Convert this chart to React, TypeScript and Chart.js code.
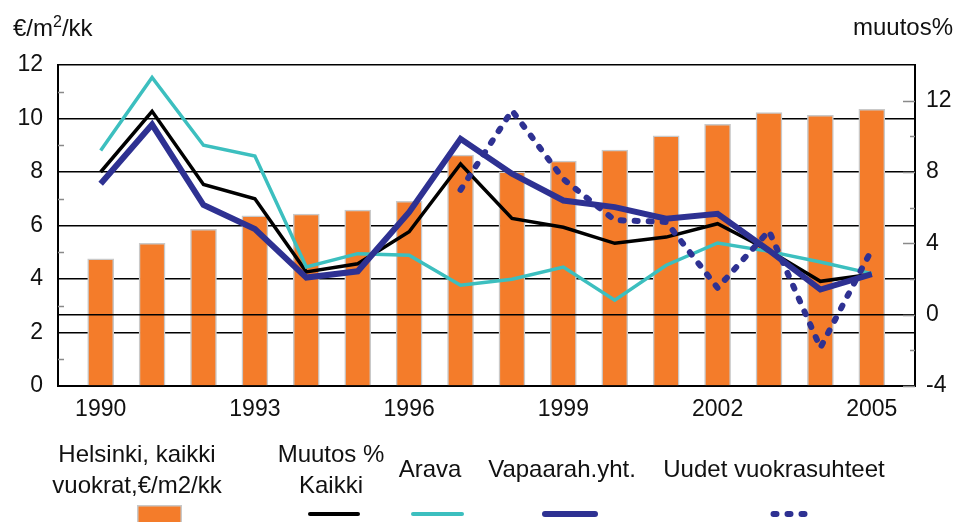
import React, { useEffect, useRef } from 'react';
import { Chart, registerables } from 'chart.js';

Chart.register(...registerables);

// ---------- data ----------
const years = [1990, 1991, 1992, 1993, 1994, 1995, 1996, 1997, 1998, 1999, 2000, 2001, 2002, 2003, 2004, 2005];
const xTickYears = [1990, 1993, 1996, 1999, 2002, 2005];
const leftTicks = [0, 2, 4, 6, 8, 10, 12];
const leftMinorTicks = [1, 3, 5, 7, 9, 11];
const rightTicks = [-4, 0, 4, 8, 12];
const rightMinorTicks = [-2, 2, 6, 10];

// Helsinki, all rents €/m2/month (left axis)
const rentLevel = [4.75, 5.33, 5.86, 6.36, 6.43, 6.58, 6.9, 8.63, 8.01, 8.41, 8.82, 9.35, 9.78, 10.22, 10.12, 10.34];
// change % (right axis)
const changeAll = [8.0, 11.4, 7.3, 6.5, 2.4, 2.85, 4.65, 8.45, 5.4, 4.9, 4.0, 4.35, 5.1, 3.6, 1.87, 2.27];
const changeArava = [9.2, 13.3, 9.5, 8.9, 2.67, 3.42, 3.33, 1.65, 1.99, 2.67, 0.81, 2.77, 4.02, 3.55, 2.95, 2.3];
const changeFree = [7.34, 10.66, 6.15, 4.8, 2.08, 2.43, 5.75, 9.86, 7.9, 6.4, 6.03, 5.38, 5.66, 3.6, 1.41, 2.27];
const changeNew = [null, null, null, null, null, null, null, 7.0, 11.45, 7.6, 5.3, 5.2, 1.5, 4.7, -1.85, 3.65];

const seriesLabels = ['Helsinki, kaikki\nvuokrat,€/m2/kk', 'Muutos %\nKaikki', 'Arava', 'Vapaarah.yht.', 'Uudet vuokrasuhteet'];

// ---------- style ----------
const FONT = "'Liberation Sans', Arial, sans-serif";
const ORANGE = '#f47c2a';
const TEAL = '#3cbfbf';
const BLUE = '#2e3192';
const BLACK = '#000000';
const TEXT = '#111111';
const DOT_DASH = [3, 11];

const legendLayout = [
  { cx: 137, baselines: [462, 493], kind: 'rect', x1: 137, x2: 182 },
  { cx: 331, baselines: [462, 493], kind: 'line', x1: 310, x2: 358 },
  { cx: 430, baselines: [477], kind: 'line', x1: 413, x2: 462 },
  { cx: 562, baselines: [477], kind: 'line', x1: 545, x2: 595 },
  { cx: 774, baselines: [477], kind: 'dots', x1: 773.5, x2: 806 },
];

const toXY = (arr: (number | null)[]) =>
  years.map((yr, i) => ({ x: yr, y: arr[i] })).filter((p) => p.y !== null);

const decorPlugin = {
  id: 'decor',
  afterDatasetDraw(chart: any, args: any) {
    if (args.index !== 0) return;
    const ctx = chart.ctx;
    const { left, right } = chart.chartArea;
    const yy = chart.scales.y1.getPixelForValue(0);
    ctx.save();
    ctx.strokeStyle = BLACK;
    ctx.lineWidth = 1.5;
    ctx.beginPath();
    ctx.moveTo(left, yy);
    ctx.lineTo(right, yy);
    ctx.stroke();
    ctx.restore();
  },
  afterDraw(chart: any) {
    const ctx = chart.ctx;
    const { left, right } = chart.chartArea;
    const y = chart.scales.y;
    const y1 = chart.scales.y1;
    ctx.save();
    // inward tick marks
    ctx.strokeStyle = '#8a8a8a';
    ctx.lineWidth = 1.5;
    leftMinorTicks.forEach((v) => {
      const p = Math.round(y.getPixelForValue(v)) + 0.5;
      ctx.beginPath();
      ctx.moveTo(left, p);
      ctx.lineTo(left + 6, p);
      ctx.stroke();
    });
    rightTicks.forEach((v) => {
      const p = Math.round(y1.getPixelForValue(v)) + 0.5;
      ctx.beginPath();
      ctx.moveTo(right - 12, p);
      ctx.lineTo(right, p);
      ctx.stroke();
    });
    rightMinorTicks.forEach((v) => {
      const p = Math.round(y1.getPixelForValue(v)) + 0.5;
      ctx.beginPath();
      ctx.moveTo(right - 5, p);
      ctx.lineTo(right, p);
      ctx.stroke();
    });

    // axis titles
    ctx.fillStyle = TEXT;
    ctx.textBaseline = 'alphabetic';
    ctx.textAlign = 'left';
    ctx.font = `24px ${FONT}`;
    let tx = 13;
    const part1 = '€/m';
    ctx.fillText(part1, tx, 36);
    tx += ctx.measureText(part1).width;
    ctx.font = `16px ${FONT}`;
    ctx.fillText('2', tx, 27);
    tx += ctx.measureText('2').width;
    ctx.font = `24px ${FONT}`;
    ctx.fillText('/kk', tx, 36);
    ctx.textAlign = 'right';
    ctx.fillText('muutos%', 953, 35);

    // legend
    ctx.textAlign = 'center';
    chart.data.datasets.forEach((ds: any, i: number) => {
      const L = legendLayout[i];
      if (!L) return;
      const lines = String(ds.label).split('\n');
      ctx.fillStyle = TEXT;
      ctx.font = `24px ${FONT}`;
      lines.forEach((ln: string, k: number) => ctx.fillText(ln, L.cx, L.baselines[k]));
      if (L.kind === 'rect') {
        ctx.fillStyle = ds.backgroundColor;
        ctx.fillRect(L.x1, 505, L.x2 - L.x1, 20);
        ctx.strokeStyle = ds.borderColor;
        ctx.lineWidth = 1.5;
        ctx.strokeRect(L.x1 + 0.75, 505.75, L.x2 - L.x1 - 1.5, 20);
      } else {
        ctx.strokeStyle = ds.borderColor;
        ctx.lineWidth = L.kind === 'dots' ? 6 : Math.max(ds.borderWidth, 4);
        ctx.lineCap = 'round';
        ctx.setLineDash(L.kind === 'dots' ? DOT_DASH : []);
        ctx.beginPath();
        ctx.moveTo(L.x1, 514);
        ctx.lineTo(L.x2, 514);
        ctx.stroke();
        ctx.setLineDash([]);
      }
    });
    ctx.restore();
  },
};

export default function App() {
  const ref = useRef<HTMLCanvasElement | null>(null);

  useEffect(() => {
    if (!ref.current) return;
    const tickFont = { family: FONT, size: 23 };
    const chart = new Chart(ref.current, {
      type: 'bar',
      data: {
        datasets: [
          {
            type: 'bar',
            label: seriesLabels[0],
            data: toXY(rentLevel),
            backgroundColor: ORANGE,
            borderColor: '#c9c9c9',
            borderWidth: 1.5,
            barThickness: 26,
            yAxisID: 'y',
            order: 5,
          },
          {
            type: 'line',
            label: seriesLabels[1],
            data: toXY(changeAll),
            borderColor: BLACK,
            backgroundColor: BLACK,
            borderWidth: 3.5,
            pointRadius: 0,
            tension: 0,
            yAxisID: 'y1',
            order: 4,
          },
          {
            type: 'line',
            label: seriesLabels[2],
            data: toXY(changeArava),
            borderColor: TEAL,
            backgroundColor: TEAL,
            borderWidth: 3.5,
            pointRadius: 0,
            tension: 0,
            yAxisID: 'y1',
            order: 3,
          },
          {
            type: 'line',
            label: seriesLabels[3],
            data: toXY(changeFree),
            borderColor: BLUE,
            backgroundColor: BLUE,
            borderWidth: 6,
            pointRadius: 0,
            tension: 0,
            yAxisID: 'y1',
            order: 2,
          },
          {
            type: 'line',
            label: seriesLabels[4],
            data: toXY(changeNew),
            borderColor: BLUE,
            backgroundColor: BLUE,
            borderWidth: 6,
            borderDash: DOT_DASH,
            borderCapStyle: 'round',
            pointRadius: 0,
            tension: 0,
            yAxisID: 'y1',
            order: 1,
          },
        ] as any,
      },
      options: {
        animation: false,
        responsive: false,
        devicePixelRatio: 1,
        layout: { padding: { top: 65, left: 0, right: 0, bottom: 0 } },
        plugins: { legend: { display: false }, tooltip: { enabled: false }, title: { display: false } },
        scales: {
          x: {
            type: 'linear',
            min: 1989.17,
            max: 2005.84,
            offset: false,
            afterBuildTicks: (s: any) => {
              s.ticks = xTickYears.map((v) => ({ value: v }));
            },
            afterFit: (s: any) => {
              s.height = 136;
            },
            ticks: {
              font: tickFont,
              color: TEXT,
              padding: 10,
              maxRotation: 0,
              autoSkip: false,
              callback: (v: any) => String(v),
            },
            grid: { display: false, drawTicks: false },
            border: { display: true, color: BLACK, width: 2 },
          },
          y: {
            type: 'linear',
            position: 'left',
            min: 0,
            max: 12,
            afterBuildTicks: (s: any) => {
              s.ticks = leftTicks.map((v) => ({ value: v }));
            },
            afterFit: (s: any) => {
              s.width = 58;
            },
            ticks: { font: tickFont, color: TEXT, padding: 15 },
            grid: { color: BLACK, lineWidth: 1.5, drawTicks: false },
            border: { display: true, color: BLACK, width: 2 },
          },
          y1: {
            type: 'linear',
            position: 'right',
            min: -4,
            max: 14,
            afterBuildTicks: (s: any) => {
              s.ticks = rightTicks.map((v) => ({ value: v }));
            },
            afterFit: (s: any) => {
              s.width = 41;
            },
            ticks: { font: tickFont, color: TEXT, padding: 11 },
            grid: { display: false, drawOnChartArea: false, drawTicks: false },
            border: { display: true, color: BLACK, width: 2 },
          },
        },
      } as any,
      plugins: [decorPlugin],
    });
    return () => chart.destroy();
  }, []);

  return (
    <div style={{ position: 'absolute', left: 0, top: 0, width: 956, height: 522, background: '#fff' }}>
      <canvas ref={ref} width={956} height={522} style={{ display: 'block', width: 956, height: 522 }} />
    </div>
  );
}
